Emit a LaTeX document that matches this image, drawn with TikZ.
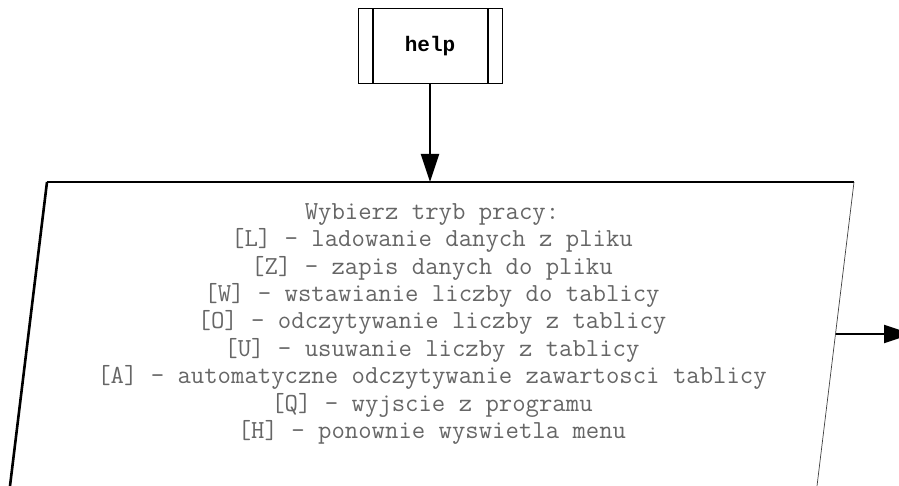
\documentclass[tikz,border=0pt]{standalone}
\usepackage{fontspec}
\newfontfamily\helpfont{Liberation Mono}
\usetikzlibrary{arrows.meta}
\begin{document}
\begin{tikzpicture}[x=1pt,y=-1pt,
  flow/.style={line width=2pt,-{Triangle[length=28pt,width=18pt]}},
  menutext/.style={font=\ttfamily\fontsize{26}{27.4}\selectfont,text=black!60,align=center,inner sep=0pt},
  helpbox/.style={draw,line width=1pt,minimum width=144pt,minimum height=75pt,inner sep=0pt,
    font=\helpfont\bfseries\fontsize{21}{24}\selectfont}]
\useasboundingbox (0,0) rectangle (899,486);
% help block (predefined process)
\node[helpbox] (help) at (430,46.5) {help};
\draw[line width=2pt] ([xshift=15pt]help.north west) -- ([xshift=15pt]help.south west);
\draw[line width=2pt] ([xshift=-15pt]help.north east) -- ([xshift=-15pt]help.south east);
% parallelogram corners
\coordinate (tl) at (47,182);
\coordinate (tr) at (854,182);
\coordinate (bl) at (10,486);
\coordinate (br) at (817,486);
\coordinate (top) at (430,182);
\coordinate (re) at (835.6,334);
\coordinate (out) at (912,334);
\draw[line width=1.6pt] (tl) -- (tr);
\draw[line width=2.6pt] (tl) -- (bl);
\draw[line width=0.7pt,black!75] (tr) -- (br);
% menu text
\node[menutext] (menu) at (432,324) {Wybierz tryb pracy:\\
{[L]} - ladowanie danych z pliku\\
{[Z]} - zapis danych do pliku\\
{[W]} - wstawianie liczby do tablicy\\
{[O]} - odczytywanie liczby z tablicy\\
{[U]} - usuwanie liczby z tablicy\\
{[A]} - automatyczne odczytywanie zawartosci tablicy\\
{[Q]} - wyjscie z programu\\
{[H]} - ponownie wyswietla menu};
% connectors
\draw[flow] (help.south) -- (top);
\draw[flow] (re) -- (out);
\end{tikzpicture}
\end{document}
